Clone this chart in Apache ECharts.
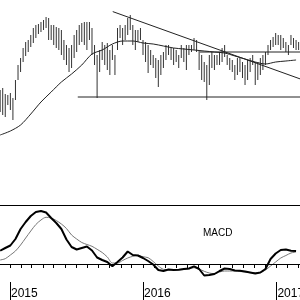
<!DOCTYPE html>
<html>
<head>
<meta charset="utf-8">
<script src="https://cdn.jsdelivr.net/npm/echarts@6/dist/echarts.min.js"></script>
<style>
  html, body { margin: 0; padding: 0; background: #fff; }
  #chart { width: 300px; height: 300px; }
</style>
</head>
<body>
<div id="chart"></div>
<script>
// weekly bars, first one on 5 Dec 2014
var firstWeek = '2014-12-05';

var highs = [85, 86, 83, 82.5, 83.5, 81, 90, 97.5, 101, 106,
    109, 110, 112.5, 116, 117.5, 118, 119, 120, 121.5, 121,
    117.5, 117.5, 116.5, 116, 115, 110, 107.5, 106, 107.5, 112.5,
    115, 117.5, 118.5, 119, 119, 119, 116, 107.5, 102.5, 105,
    109, 107.5, 108.5, 105, 107.5, 102.5, 116, 117.5, 116, 117.5,
    121, 122.5, 117.5, 115, 115, 116, 110, 109, 107.5, 105,
    102.5, 101, 100, 102.5, 104, 107.5, 107.5, 106, 106, 105,
    102.5, 107.5, 106, 107.5, 107.5, 107.5, 111, 110, 105, 102.5,
    99, 97.5, 102.5, 104, 102.5, 102.5, 104, 106, 107.5, 102.5,
    101, 100, 97.5, 101, 101, 99, 97.5, 100, 101, 102.5,
    99, 99, 101, 102.5, 104, 107.5, 110, 111.5, 113.5, 112.5,
    112.5, 111, 109, 107.5, 112.5, 111, 110, 109];

var lows = [74, 72.5, 71.5, 77.5, 75, 70, 80, 90, 94, 99,
    102, 104, 106.5, 108.5, 111, 113, 114, 115, 116, 110,
    110, 107.5, 106, 105, 102.5, 100, 97.5, 94, 96, 101,
    104, 107.5, 109, 107.5, 105, 110, 102.5, 97.5, 81, 94,
    100, 97.5, 95, 92.5, 100, 92.5, 105, 111, 107.5, 110,
    112.5, 115, 107.5, 105, 109, 110, 102.5, 99, 93.5, 97.5,
    96, 91, 86.5, 92.5, 96, 100, 102.5, 100, 97.5, 99,
    96, 101, 99, 95, 102.5, 104, 105, 104, 95, 90,
    89, 80, 87.5, 96, 95, 97.5, 97.5, 99, 101.5, 97.5,
    95, 94, 90, 92.5, 94, 91, 87.5, 90, 94, 97.5,
    87.5, 90, 92.5, 95, 97.5, 102.5, 105, 106.5, 107.5, 107.5,
    105, 106, 104, 102.5, 107.5, 106, 105, 105];

// moving average, one value every 4 weeks
var maValues = [62.5, 64.5, 67.5, 73, 79, 84, 89, 93, 97.5, 103,
    105, 108, 109.5, 109.5, 108.5, 108, 107, 106, 105.5, 105,
    104.5, 104, 103.5, 102, 100.5, 99, 98, 99, 99.5, 100];

// MACD and signal, one value every 2 weeks
var macdValues = [1.33, 1.6, 1.85, 2.5, 3.5, 4.2, 4.8, 5.2, 5.3, 5.15,
    4.6, 4.1, 3.5, 2.45, 1.7, 1.45, 1.6, 1.75, 1.35, 0.65,
    0.4, 0.2, -0.23, 0.2, 0.65, 1.25, 0.9, 0.85, 0.6, 0.3,
    -0.05, -0.6, -0.7, -0.55, -0.6, -0.57, -0.5, -0.45, -0.23, -0.5,
    -1.15, -1.1, -1.0, -0.7, -0.45, -0.5, -0.65, -0.67, -0.75, -0.85,
    -0.95, -0.85, -0.5, 0.5, 1.05, 1.4, 1.45, 1.33, 1.3];
var signalValues = [0.4, 0.53, 0.9, 1.3, 1.9, 2.6, 3.3, 3.95, 4.4, 4.67,
    4.6, 4.35, 4.0, 3.55, 2.9, 2.5, 2.15, 1.95, 1.77, 1.47,
    1.15, 0.7, 0.1, 0.1, 0.35, 0.6, 0.77, 0.87, 0.72, 0.63,
    0.25, -0.2, -0.53, -0.57, -0.6, -0.58, -0.55, -0.48, -0.37, -0.5,
    -0.73, -0.9, -0.97, -0.8, -0.7, -0.7, -0.7, -0.75, -0.8, -0.87,
    -0.87, -0.85, -0.6, -0.2, 0.2, 0.6, 0.85, 1.1, 1.2];

// drawn lines
var trendLine = [['2015-10-10', 124.2], ['2017-03-08', 90.5]];
var supportLine = [['2015-07-06', 81.5], ['2017-03-08', 81.5]];
var resistLine = [['2016-06-05', 104], ['2017-03-08', 104]];

var years = [2015, 2016, 2017];

// x runs in days counted from 1 Jan 2015
var DAY = 86400000;
var origin = Date.UTC(2015, 0, 1);
function dayOf(s) {
    var p = s.split('-');
    return (Date.UTC(+p[0], +p[1] - 1, +p[2]) - origin) / DAY;
}
var week0 = dayOf(firstWeek);
var xMin = -27.44;
var xMax = 795.8;

var bars = [];
for (var i = 0; i < highs.length; i++) {
    bars.push([week0 + 7 * i, highs[i], lows[i]]);
}
var ma = maValues.map(function (v, k) { return [week0 + 28 * k, v]; });
var macd = macdValues.map(function (v, k) { return [week0 + 14 * k, v]; });
var signal = signalValues.map(function (v, k) { return [week0 + 14 * k, v]; });
function toDays(line) {
    return line.map(function (p) { return [dayOf(p[0]), p[1]]; });
}

var yearTicks = years.map(function (y) { return (Date.UTC(y, 0, 1) - origin) / DAY; });
var monthTicks = [];
for (var m = 0; m < 28; m++) {
    monthTicks.push((Date.UTC(2015, m - 1, 1) - origin) / DAY);
}

var font = 'Liberation Sans, Arial, sans-serif';

var myChart = echarts.init(document.getElementById('chart'));
var option = {
    animation: false,
    grid: [
        {left: 0, right: 0, top: 0, height: 140, outerBoundsMode: 'none'},
        {left: 0, right: 0, top: 205, height: 77, outerBoundsMode: 'none'}
    ],
    xAxis: [
        {gridIndex: 0, type: 'value', min: xMin, max: xMax, show: false},
        {
            gridIndex: 1, type: 'value', min: xMin, max: xMax, position: 'bottom',
            axisLine: {lineStyle: {color: '#000', width: 1}},
            axisTick: {customValues: monthTicks, length: 4, lineStyle: {color: '#000'}},
            axisLabel: {
                customValues: yearTicks,
                formatter: function (v) { return String(new Date(origin + v * DAY).getUTCFullYear()); },
                align: 'left', margin: 6, padding: [0, 0, 0, 1],
                color: '#000', fontSize: 12, fontFamily: font
            },
            splitLine: {show: false}
        },
        {
            gridIndex: 1, type: 'value', min: xMin, max: xMax, position: 'bottom',
            axisLine: {show: false},
            axisTick: {customValues: yearTicks, length: 18, lineStyle: {color: '#000'}},
            axisLabel: {show: false},
            splitLine: {show: false}
        },
        {
            gridIndex: 1, type: 'value', min: xMin, max: xMax, position: 'top',
            axisLine: {lineStyle: {color: '#000', width: 1}},
            axisTick: {show: false},
            axisLabel: {show: false},
            splitLine: {show: false}
        }
    ],
    yAxis: [
        {gridIndex: 0, type: 'value', min: 60, max: 130, show: false},
        {gridIndex: 1, type: 'value', min: -1.8, max: 5.9, show: false}
    ],
    graphic: [{
        type: 'text', left: 203, top: 228,
        style: {text: 'MACD', fill: '#000', font: '10px ' + font}
    }],
    series: [
        {
            name: 'Price', type: 'custom', xAxisIndex: 0, yAxisIndex: 0,
            encode: {x: 0, y: [1, 2]},
            renderItem: function (params, api) {
                var hi = api.coord([api.value(0), api.value(1)]);
                var lo = api.coord([api.value(0), api.value(2)]);
                return {
                    type: 'line',
                    shape: {x1: hi[0], y1: hi[1], x2: lo[0], y2: lo[1]},
                    style: {stroke: '#333', lineWidth: 1}
                };
            },
            data: bars
        },
        {
            name: 'MA', type: 'line', xAxisIndex: 0, yAxisIndex: 0,
            showSymbol: false, smooth: 0.3,
            lineStyle: {color: '#222', width: 1},
            data: ma
        },
        {
            name: 'Trend', type: 'line', xAxisIndex: 0, yAxisIndex: 0,
            showSymbol: false, lineStyle: {color: '#222', width: 1},
            data: toDays(trendLine)
        },
        {
            name: 'Support', type: 'line', xAxisIndex: 0, yAxisIndex: 0,
            showSymbol: false, lineStyle: {color: '#222', width: 1},
            data: toDays(supportLine)
        },
        {
            name: 'Resistance', type: 'line', xAxisIndex: 0, yAxisIndex: 0,
            showSymbol: false, lineStyle: {color: '#222', width: 1},
            data: toDays(resistLine)
        },
        {
            name: 'Signal', type: 'line', xAxisIndex: 1, yAxisIndex: 1,
            showSymbol: false, smooth: 0.3,
            lineStyle: {color: '#777', width: 1},
            data: signal
        },
        {
            name: 'MACD', type: 'line', xAxisIndex: 1, yAxisIndex: 1,
            showSymbol: false,
            lineStyle: {color: '#000', width: 2},
            markLine: {
                silent: true, symbol: ['none', 'none'],
                label: {show: false},
                lineStyle: {color: '#000', type: 'solid', width: 1},
                data: [{yAxis: 0}]
            },
            data: macd
        }
    ]
};
if (option && typeof option === "object") {
    myChart.setOption(option, true);
}
</script>
</body>
</html>
